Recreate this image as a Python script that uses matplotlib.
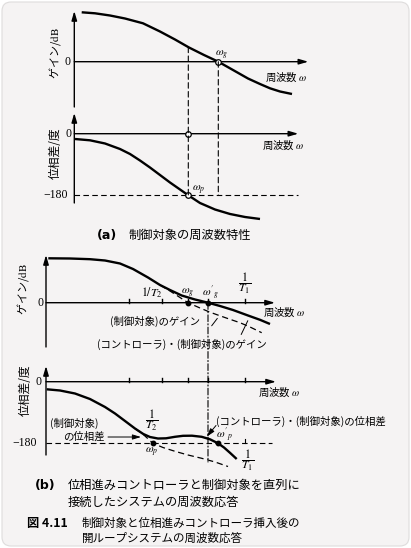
import numpy as np
import matplotlib
matplotlib.use('Agg')
import matplotlib.pyplot as plt
from matplotlib.patches import FancyBboxPatch, ConnectionPatch

plt.rcParams['mathtext.fontset'] = 'stix'
plt.rcParams['font.family'] = ['Noto Sans CJK JP', 'DejaVu Sans']

# ---------------- data (x: log-frequency units, gain: dB, phase: deg) ----------------
# (a) plant
gain_a_w = [0.74, 2.07, 3.57, 5.07, 6.87, 8.57, 10.07, 11.47, 12.97, 14.4, 15.87, 17.37, 18.57, 19.57, 20.57, 21.77]
gain_a_db = [49.4, 48.4, 46.2, 43.2, 38.4, 30.2, 22.2, 14.2, 6.7, 0.0, -8.3, -16.8, -22.3, -26.6, -29.8, -32.3]
phase_a_w = [0.07, 1.57, 3.07, 4.57, 5.57, 6.57, 7.57, 8.57, 9.57, 10.57, 11.4, 12.57, 14.07, 15.57, 17.07, 18.57]
phase_a_deg = [-15.5, -19.3, -28.6, -44.7, -59.3, -78.3, -98.8, -120.7, -142.6, -163.0, -180.0, -202.5, -221.5, -234.6, -243.4, -249.2]
wg_a = 14.4
wp_a = 11.4

# (b) controller * plant (solid) and plant (dashed)
gain_b_w = [0.23, 2.4, 4.4, 5.9, 7.4, 8.7, 10.2, 11.4, 12.4, 13.57, 14.9, 16.2, 17.4, 18.7, 20.2, 21.4, 22.4]
gain_b_db = [44.4, 44.2, 43.5, 42.2, 39.2, 33.7, 25.2, 17.7, 12.7, 7.2, 3.2, 0.0, -3.3, -7.3, -12.8, -17.1, -21.3]
plant_gain_b_w = [11.4, 12.4, 13.4, 14.2, 15.4, 16.4, 17.4, 18.4, 19.4, 20.4, 21.57]
plant_gain_b_db = [17.7, 11.7, 5.2, 0.0, -5.3, -9.5, -13.1, -16.6, -20.0, -24.3, -30.0]

phase_b_w = [0.07, 1.4, 2.9, 4.4, 5.9, 6.9, 7.9, 8.9, 9.73, 10.4, 11.2, 12.0, 12.9, 13.7, 14.6, 15.57, 16.4, 17.2, 17.8, 18.4, 19.07]
phase_b_deg = [-22.2, -25.7, -34.5, -50.6, -73.9, -92.9, -114.8, -136.8, -152.8, -161.6, -166.0, -165.4, -161.0, -158.1, -157.8, -161.0, -168.3, -180.0, -192.3, -207.8, -225.9]
plant_phase_b_w = [8.9, 9.73, 10.7, 11.7, 12.9, 14.2, 15.57, 16.9, 18.2]
plant_phase_b_deg = [-136.8, -154.3, -180.0, -192.3, -203.4, -214.2, -223.8, -234.6, -247.8]

tick_b = [8.3, 11.6, 14.2, 16.2, 19.9]
wg_b = 14.2
wg2_b = 16.2
wp_b = 10.7
wp2_b = 17.2
invT1 = 19.9

# ---------------- figure ----------------
W, H = 411, 548
fig = plt.figure(figsize=(W / 100, H / 100), dpi=100)
fig.patch.set_facecolor('white')

bgax = fig.add_axes([0, 0, 1, 1])
bgax.set_xlim(0, W)
bgax.set_ylim(H, 0)
bgax.axis('off')
bgax.add_patch(FancyBboxPatch((2, 2), W - 4, H - 4, boxstyle='round,pad=0,rounding_size=9',
                              facecolor='#f5f3f3', edgecolor='#dedcdc', lw=0.8))


def panel(x0, zero, ppx, ppy, left, right, top, bottom):
    ax = fig.add_axes([left / W, 1 - bottom / H, (right - left) / W, (bottom - top) / H])
    ax.set_xlim((left - x0) / ppx, (right - x0) / ppx)
    ax.set_ylim((zero - bottom) / ppy, (zero - top) / ppy)
    ax.axis('off')
    ax.patch.set_alpha(0)
    return ax


PH = 1 / 2.922  # px per degree
ax_ga = panel(74.3, 61.7, 10, 1.0, 20, 330, 5, 110)
ax_pa = panel(74.3, 133.7, 10, PH, 20, 330, 110, 228)
ax_gb = panel(46, 302.7, 10, 1.0, 5, 330, 250, 352)
ax_pb = panel(46, 381.7, 10, PH, 5, 405, 356, 472)

ARW = dict(arrowstyle='-|>,head_length=0.55,head_width=0.16', lw=1.0, color='k',
           shrinkA=0, shrinkB=0)


def axes_lines(ax, xend, ybot, ytop):
    ax.annotate('', xy=(xend, 0), xytext=(0, 0), arrowprops=ARW)
    ax.annotate('', xy=(0, ytop), xytext=(0, ybot), arrowprops=ARW)


CURVE = dict(color='k', lw=1.7, solid_capstyle='butt', clip_on=False)
DASH = dict(color='k', lw=0.8, ls=(0, (5, 3)), clip_on=False)
NUM = dict(family='Liberation Serif', fontsize=8.5)
LBL = 7.5
SMALL = 7.5

# ---- (a) gain ----
axes_lines(ax_ga, 23.4, -45.3, 50.7)
ax_ga.plot(gain_a_w, gain_a_db, **CURVE)
ax_ga.plot([wg_a], [0], 'o', ms=4, mfc='white', mec='k', mew=0.9, zorder=5)
ax_ga.text(-0.35, 0, '0', ha='right', va='center', **NUM)
ax_ga.text(-1.93, 8.7, 'ゲイン/$\\mathrm{dB}$', rotation=90, ha='center', va='center', fontsize=8)
ax_ga.text(19.07, -15.3, '周波数 $\\omega$', ha='left', va='center', fontsize=LBL)
ax_ga.text(14.7, 6.7, '$\\omega_g$', ha='center', va='center', fontsize=8)

# ---- (a) phase ----
axes_lines(ax_pa, 22.4, -202.5, 60.5)
ax_pa.plot(phase_a_w, phase_a_deg, **CURVE)
ax_pa.plot([0, 22.4], [-180, -180], **DASH)
ax_pa.plot([wp_a, wp_a], [0, -180], 'o', ms=4, mfc='white', mec='k', mew=0.9, zorder=5)
ax_pa.text(-0.3, 0, '0', ha='right', va='center', **NUM)
ax_pa.text(-0.63, -180, '\u2212180', ha='right', va='center', **NUM)
ax_pa.text(-1.93, -58, '位相差/度', rotation=90, ha='center', va='center', fontsize=8.5)
ax_pa.text(18.77, -33, '周波数 $\\omega$', ha='left', va='center', fontsize=LBL)
ax_pa.text(11.8, -166, '$\\omega_p$', ha='left', va='center', fontsize=8)

g_at_wp = float(np.interp(wp_a, gain_a_w, gain_a_db))
for xa, ya in [(wp_a, g_at_wp), (wg_a, 0)]:
    fig.add_artist(ConnectionPatch(xyA=(xa, ya), coordsA=ax_ga.transData,
                                   xyB=(xa, -180), coordsB=ax_pa.transData,
                                   color='k', lw=0.8, ls=(0, (5, 3))))

fig.text(97 / W, 1 - 235 / H, '(a)', ha='left', va='center', fontsize=9, fontweight='bold',
         family=['DejaVu Sans'])
fig.text(128 / W, 1 - 235 / H, '制御対象の周波数特性', ha='left', va='center', fontsize=8.8)

# ---- (b) gain ----
axes_lines(ax_gb, 22.9, -44.3, 47.7)
for t in tick_b:
    ax_gb.plot([t, t], [0, 3.5], color='k', lw=1.0)
ax_gb.plot(plant_gain_b_w, plant_gain_b_db, color='k', lw=0.9, ls=(0, (5, 3)), clip_on=False)
ax_gb.plot(gain_b_w, gain_b_db, **CURVE)
ax_gb.plot([wg_b, wg2_b], [0, 0], 'o', ms=3.2, color='k', zorder=5)
ax_gb.text(-0.3, 0, '0', ha='right', va='center', **NUM)
ax_gb.text(-2.3, 13.7, 'ゲイン/$\\mathrm{dB}$', rotation=90, ha='center', va='center', fontsize=8)
ax_gb.text(10.6, 9.7, '$1/T_2$', ha='center', va='center', fontsize=8.5)
ax_gb.text(wg_b, 9.7, '$\\omega_g$', ha='center', va='center', fontsize=8)
ax_gb.text(wg2_b + 0.2, 9.7, "$\\omega'_g$", ha='center', va='center', fontsize=8)
ax_gb.text(invT1, 19.7, '$\\dfrac{1}{T_1}$', ha='center', va='center', fontsize=8.5)
ax_gb.text(21.7, -9.3, '周波数 $\\omega$', ha='left', va='center', fontsize=LBL)
ax_gb.text(6.4, -19, '(制御対象)のゲイン', ha='left', va='center', fontsize=SMALL)
ax_gb.text(5.1, -41.3, '(コントローラ)・(制御対象)のゲイン', ha='left', va='center', fontsize=SMALL)
ax_gb.annotate('', xy=(17.3, -13.5), xytext=(16.4, -25.3),
               arrowprops=dict(arrowstyle='-', lw=0.7, color='k'))
ax_gb.annotate('', xy=(20.3, -15.5), xytext=(19.4, -34.3),
               arrowprops=dict(arrowstyle='-', lw=0.7, color='k'))

# ---- (b) phase ----
axes_lines(ax_pb, 23.0, -214.2, 45.9)
for t in tick_b:
    ax_pb.plot([t, t], [0, 12], color='k', lw=1.0)
ax_pb.plot([0, 22.6], [-180, -180], **DASH)
ax_pb.plot([invT1, invT1], [-180, -168], color='k', lw=0.8)
ax_pb.plot(plant_phase_b_w, plant_phase_b_deg, color='k', lw=0.9, ls=(0, (5, 3)), clip_on=False)
ax_pb.plot(phase_b_w, phase_b_deg, **CURVE)
ax_pb.plot([wp_b, wp2_b], [-180, -180], 'o', ms=3.2, color='k', zorder=5)
ax_pb.text(-0.4, 0, '0', ha='right', va='center', **NUM)
ax_pb.text(-0.9, -180, '\u2212180', ha='right', va='center', **NUM)
ax_pb.text(-2.1, -24, '位相差/度', rotation=90, ha='center', va='center', fontsize=8.5)
ax_pb.text(21.2, -30.1, '周波数 $\\omega$', ha='left', va='center', fontsize=LBL)
ax_pb.text(10.6, -111.9, '$\\dfrac{1}{T_2}$', ha='center', va='center', fontsize=8.5)
ax_pb.text(2.8, -120.7, '(制御対象)', ha='center', va='center', fontsize=SMALL)
ax_pb.text(3.75, -161.6, 'の位相差', ha='center', va='center', fontsize=SMALL)
ax_pb.annotate('', xy=(9.5, -161.6), xytext=(6.2, -161.6),
               arrowprops=dict(arrowstyle='-|>,head_length=0.5,head_width=0.15', lw=0.7,
                               color='k', shrinkA=0, shrinkB=0))
ax_pb.text(17.0, -117, '(コントローラ)・(制御対象)の位相差', ha='left', va='center', fontsize=SMALL)
ax_pb.annotate('', xy=(16.07, -160.7), xytext=(17.0, -128),
               arrowprops=dict(arrowstyle='-|>,head_length=0.5,head_width=0.15', lw=0.7,
                               color='k', shrinkA=0, shrinkB=0))
ax_pb.text(17.8, -158, "$\\omega'_p$", ha='center', va='center', fontsize=8)
ax_pb.text(10.6, -205.6, '$\\omega_p$', ha='center', va='center', fontsize=8)
ax_pb.text(20.2, -228.8, '$\\dfrac{1}{T_1}$', ha='center', va='center', fontsize=8.5)

fig.add_artist(ConnectionPatch(xyA=(wg2_b, 0), coordsA=ax_gb.transData,
                               xyB=(wg2_b, -234.6), coordsB=ax_pb.transData,
                               color='k', lw=0.8, ls=(0, (6, 2, 1, 2))))

# ---- captions ----
def ftext(x, y, s, **kw):
    fig.text(x / W, 1 - y / H, s, ha='left', va='center', **kw)

ftext(35, 485, '(b)', fontsize=9, fontweight='bold', family=['DejaVu Sans'])
ftext(68, 485, '位相進みコントローラと制御対象を直列に', fontsize=8.8)
ftext(68, 502, '接続したシステムの周波数応答', fontsize=8.8)
ftext(27, 523, '図 4.11', fontsize=8.8, fontweight='bold')
ftext(82, 523, '制御対象と位相進みコントローラ挿入後の', fontsize=8.3)
ftext(82, 538, '開ループシステムの周波数応答', fontsize=8.3)

fig.savefig('out.png', dpi=100, facecolor='white')
